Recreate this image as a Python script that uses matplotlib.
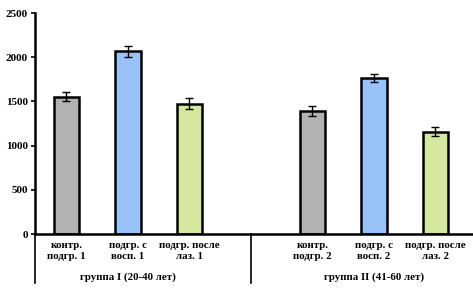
import matplotlib
matplotlib.use("Agg")
import matplotlib.pyplot as plt
import matplotlib.transforms as mtransforms

# data
labels = ["контр.\nподгр. 1", "подгр. с\nвосп. 1", "подгр. после\nлаз. 1",
          "контр.\nподгр. 2", "подгр. с\nвосп. 2", "подгр. после\nлаз. 2"]
positions = [0, 1, 2, 4, 5, 6]
values = [1555, 2065, 1475, 1390, 1760, 1160]
errors = [50, 60, 60, 55, 45, 55]
colors = ["#b2b2b2", "#99c2f9", "#d6e8a0", "#b2b2b2", "#99c2f9", "#d6e8a0"]
groups = ["группа I (20-40 лет)", "группа II (41-60 лет)"]
group_centers = [1, 5]
separators = [3]
yticks = [0, 500, 1000, 1500, 2000, 2500]

plt.rcParams['font.family'] = ['Liberation Serif', 'DejaVu Serif']

fig = plt.figure(figsize=(4.73, 2.96), dpi=100)
ax = fig.add_axes([0.074, 0.209, 0.926, 0.747])

ax.bar(positions, values, width=0.41, color=colors, edgecolor="black", linewidth=1.8,
       yerr=errors, error_kw=dict(ecolor="black", elinewidth=1, capsize=3, capthick=1))

ax.set_xlim(-0.51, 6.61)
ax.set_ylim(0, 2500)
ax.set_yticks(yticks)
ax.set_yticklabels([str(t) for t in yticks], fontsize=8, fontweight="bold")
ax.tick_params(axis="y", direction="out", length=3, width=1.2, pad=2)
ax.set_xticks(positions)
ax.set_xticklabels(labels, fontsize=7.8, fontweight="bold", linespacing=1.25)
ax.tick_params(axis="x", length=0, pad=5)

for s in ["top", "right"]:
    ax.spines[s].set_visible(False)
ax.spines["left"].set_linewidth(1.8)
ax.spines["bottom"].set_linewidth(1.8)

trans = mtransforms.blended_transform_factory(ax.transData, ax.transAxes)
for x in [-0.51] + separators:
    ax.plot([x, x], [0, -0.22], transform=trans, color="black", linewidth=1.2,
            clip_on=False)

for g, c in zip(groups, group_centers):
    ax.text(c, -0.195, g, transform=trans, ha="center", va="center",
            fontsize=7.8, fontweight="bold")

fig.savefig("out.png", dpi=100)
